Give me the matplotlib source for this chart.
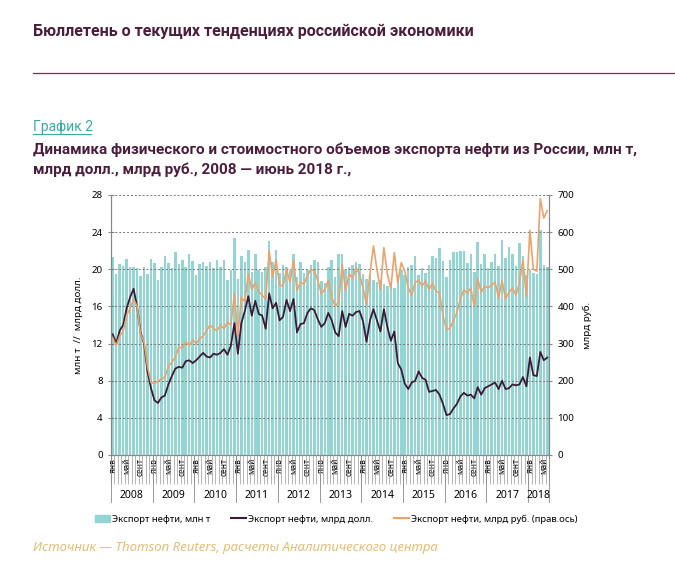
import numpy as np
import matplotlib
matplotlib.use("Agg")
import matplotlib.pyplot as plt
from matplotlib.patches import Patch
from matplotlib.lines import Line2D
import matplotlib.transforms as mtransforms

plt.rcParams['font.family'] = ['Noto Sans', 'DejaVu Sans']

# Данные: январь 2008 - июнь 2018, помесячно
years = ['2008', '2009', '2010', '2011', '2012', '2013', '2014', '2015', '2016', '2017', '2018']
month_labels = ['янв', 'май', 'сент']

# Экспорт нефти, млн т
export_mt = [
    21.3, 19.5, 20.6, 20.4, 21.1, 20.2, 20.2, 20.1, 19.3, 20.3, 19.5, 21.1,
    20.7, 18.8, 20.2, 21.4, 20.7, 20.1, 21.9, 20.6, 21.0, 20.3, 21.7, 20.9,
    19.4, 20.6, 20.8, 20.4, 20.8, 20.1, 21.0, 20.3, 21.0, 18.8, 19.9, 23.4,
    19.0, 21.4, 20.8, 22.1, 19.7, 21.7, 19.9, 19.7, 20.3, 23.0, 20.8, 22.1,
    19.6, 20.5, 20.3, 19.9, 21.7, 19.2, 20.8, 19.6, 19.9, 20.5, 21.0, 20.8,
    18.7, 18.5, 20.3, 21.0, 19.2, 21.7, 21.7, 19.9, 20.3, 20.5, 20.8, 20.6,
    19.5, 19.0, 19.4, 18.8, 18.6, 18.8, 18.4, 18.2, 18.6, 18.0, 19.4, 19.9,
    19.4, 20.3, 20.5, 21.4, 19.4, 20.1, 19.6, 20.5, 21.4, 21.2, 22.3, 20.9,
    19.2, 21.0, 21.9, 21.9, 22.0, 22.0, 20.7, 21.7, 19.7, 22.9, 20.6, 21.6,
    20.1, 20.8, 21.7, 20.4, 23.2, 21.2, 22.4, 21.7, 20.4, 22.8, 21.4, 19.4,
    19.9, 19.6, 19.5, 24.2, 20.5, 20.3,
]

# Экспорт нефти, млрд долл.
export_usd = [
    13.0, 12.0, 13.4, 14.0, 15.8, 17.0, 17.9, 16.0, 13.2, 12.0, 9.0, 7.2,
    5.9, 5.6, 6.2, 6.4, 7.6, 8.5, 9.3, 9.5, 9.4, 10.1, 10.2, 9.9,
    10.2, 10.6, 11.0, 10.6, 10.5, 10.9, 10.8, 11.0, 11.4, 10.8, 11.8, 14.2,
    10.9, 14.2, 15.5, 17.1, 15.0, 16.6, 15.2, 15.0, 13.6, 17.4, 15.8, 16.4,
    14.5, 14.9, 16.7, 15.5, 16.8, 13.2, 14.1, 14.2, 15.3, 15.8, 15.6, 14.6,
    13.8, 14.2, 15.3, 14.5, 13.2, 12.8, 15.5, 13.8, 15.2, 15.0, 15.4, 15.5,
    14.4, 12.2, 14.5, 15.7, 14.5, 13.3, 15.7, 13.8, 12.3, 13.3, 9.9, 9.2,
    7.7, 7.1, 7.8, 8.0, 9.0, 8.3, 8.1, 6.8, 6.9, 7.0, 6.5, 5.5,
    4.3, 4.4, 5.0, 5.5, 6.3, 6.7, 6.4, 6.5, 6.1, 7.3, 6.5, 7.2,
    7.4, 7.6, 7.8, 7.1, 8.0, 7.1, 7.2, 7.6, 7.5, 7.6, 8.4, 7.4,
    10.5, 8.6, 8.5, 11.1, 10.2, 10.5,
]

# Экспорт нефти, млрд руб. (правая ось)
export_rub = [
    315, 295, 320, 333, 375, 395, 420, 400, 325, 305, 238, 195,
    193, 198, 205, 210, 238, 250, 263, 290, 288, 305, 295, 310,
    300, 313, 320, 335, 350, 340, 335, 350, 340, 358, 350, 435,
    320, 425, 413, 488, 445, 465, 440, 430, 420, 550, 480, 525,
    458, 455, 500, 465, 523, 443, 465, 460, 483, 500, 495, 470,
    435, 445, 470, 425, 400, 413, 513, 443, 488, 475, 505, 485,
    450, 405, 488, 563, 500, 445, 558, 488, 448, 545, 463, 518,
    495, 450, 430, 465, 470, 455, 468, 445, 463, 440, 438, 375,
    338, 340, 363, 383, 420, 445, 435, 450, 400, 475, 438, 455,
    450, 458, 465, 423, 470, 420, 438, 450, 430, 463, 525, 425,
    605, 500, 495, 690, 638, 658,
]

teal = '#92d5d2'
dark = '#3b1a38'
orange = '#eba36d'
purple = '#4b1d3c'
head_font = ['Roboto', 'DejaVu Sans']

fig = plt.figure(figsize=(6.75, 5.62), dpi=100)

# заголовки
fig.text(33/675, 1 - 31/562, 'Бюллетень о текущих тенденциях российской экономики',
         fontsize=11.5, color=purple, fontweight='bold', family=head_font,
         va='center', ha='left')
fig.add_artist(Line2D([33/675, 1.0], [1 - 73/562, 1 - 73/562], color='#6a3a55', lw=0.9))
fig.text(33/675, 1 - 127/562, 'График 2', fontsize=10, color='#3aaaa6',
         family=head_font, va='center', ha='left')
fig.add_artist(Line2D([33/675, 91/675], [1 - 134/562, 1 - 134/562], color='#3aaaa6', lw=0.8))
fig.text(33/675, 1 - 150/562,
         'Динамика физического и стоимостного объемов экспорта нефти из России, млн т,',
         fontsize=11, color=purple, fontweight='bold', family=head_font,
         va='center', ha='left')
fig.text(33/675, 1 - 170/562, 'млрд долл., млрд руб., 2008 — июнь 2018 г.,',
         fontsize=11, color=purple, fontweight='bold', family=head_font,
         va='center', ha='left')

ax = fig.add_axes([111/675, 1 - 455/562, 438/675, 260/562])
x = np.arange(len(export_mt))

ax.bar(x, export_mt, width=0.72, color=teal, zorder=1)
for v in range(4, 29, 4):
    ax.axhline(v, color='#777777', lw=0.7, linestyle=(0, (2, 2)), zorder=2)
ax.plot(x, export_usd, color=dark, lw=1.3, zorder=3)

ax.set_xlim(-0.5, len(x) - 0.5)
ax.set_ylim(0, 28)
ax.set_yticks(range(0, 29, 4))
ax.tick_params(axis='y', labelsize=7, direction='inout', length=4, color='#888888', pad=4)
ax.set_ylabel('млн т  //  млрд долл.', fontsize=7, labelpad=6)

# подписи месяцев
pos, labs = [], []
for i in range(len(x)):
    if i % 12 in (0, 4, 8):
        pos.append(i)
        labs.append(month_labels[(i % 12) // 4])
ax.set_xticks(pos)
ax.set_xticklabels(labs, rotation=90, fontsize=6)
ax.tick_params(axis='x', length=0, pad=2)
ax.set_xticks(np.arange(-0.5, len(x), 1), minor=True)
ax.tick_params(axis='x', which='minor', length=21, width=0.5, color='#999999', direction='out')

ax.spines['top'].set_visible(False)
for s in ['left', 'right', 'bottom']:
    ax.spines[s].set_color('#888888')
    ax.spines[s].set_linewidth(0.8)

# годы
trans = mtransforms.blended_transform_factory(ax.transData, ax.transAxes)
for k, yr in enumerate(years):
    start = k * 12 - 0.5
    end = min(k * 12 + 11.5, len(x) - 0.5)
    ax.add_line(Line2D([start, start], [0, -0.18], transform=trans, color='#888888',
                       lw=0.6, clip_on=False))
    ax.text((start + end) / 2, -0.155, yr, transform=trans, fontsize=7.5,
            ha='center', va='center')
ax.add_line(Line2D([len(x) - 0.5, len(x) - 0.5], [0, -0.18], transform=trans,
                   color='#888888', lw=0.6, clip_on=False))

ax2 = ax.twinx()
ax2.plot(x, export_rub, color=orange, lw=1.2, zorder=4)
ax2.set_ylim(0, 700)
ax2.set_yticks(range(0, 701, 100))
ax2.tick_params(axis='y', labelsize=7, direction='inout', length=4, color='#888888', pad=4)
ax2.set_ylabel('млрд руб.', fontsize=7, labelpad=6)
ax2.spines['top'].set_visible(False)
for s in ['left', 'right', 'bottom']:
    ax2.spines[s].set_color('#888888')
    ax2.spines[s].set_linewidth(0.8)

handles = [Patch(color=teal, label='Экспорт нефти, млн т'),
           Line2D([], [], color=dark, lw=1.5, label='Экспорт нефти, млрд долл.'),
           Line2D([], [], color=orange, lw=1.5, label='Экспорт нефти, млрд руб. (прав.ось)')]
fig.legend(handles=handles, loc='center', bbox_to_anchor=(336/675, 1 - 519/562),
           ncol=3, frameon=False, fontsize=6.8, handlelength=1.6, handletextpad=0.2,
           columnspacing=2.2)

fig.text(33/675, 1 - 547/562, 'Источник — Thomson Reuters, расчеты Аналитического центра',
         fontsize=9.5, color='#e4bd76', style='italic', va='center', ha='left')

plt.savefig('out.png', dpi=100)
